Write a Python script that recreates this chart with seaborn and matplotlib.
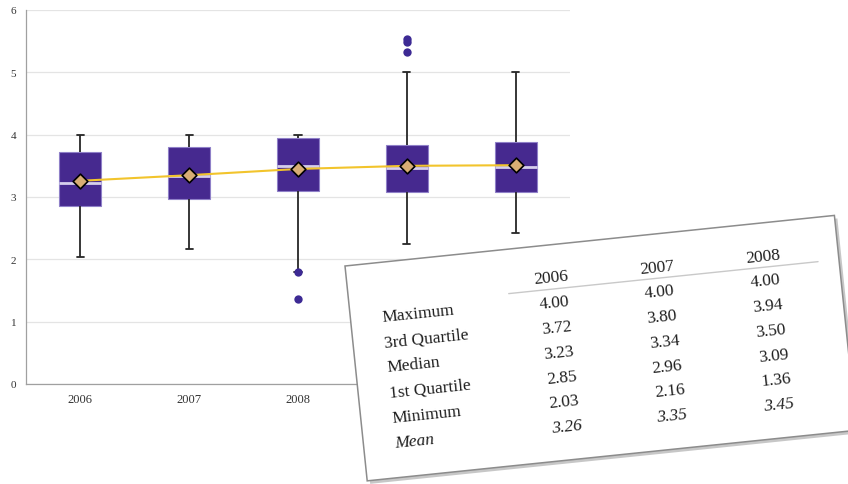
import numpy as np
import pandas as pd
import matplotlib
matplotlib.use("Agg")
import matplotlib.pyplot as plt
from matplotlib.patches import Polygon
from matplotlib.lines import Line2D
import seaborn as sns

# ---------------- data ----------------
years = ["2006", "2007", "2008", "2009", "2010"]
box_max = [4.00, 4.00, 4.00, 5.01, 5.00]
box_q3 = [3.72, 3.80, 3.94, 3.84, 3.89]
box_median = [3.23, 3.34, 3.50, 3.46, 3.48]
box_q1 = [2.85, 2.96, 3.09, 3.08, 3.08]
box_min = [2.03, 2.16, 1.80, 2.25, 2.42]
means = [3.26, 3.35, 3.45, 3.50, 3.51]
outlier_years = ["2008", "2008", "2009", "2009", "2009"]
outlier_values = [1.79, 1.36, 5.53, 5.48, 5.33]

table_years = ["2006", "2007", "2008"]
table_rows = ["Maximum", "3rd Quartile", "Median", "1st Quartile", "Minimum", "Mean"]
table_2006 = ["4.00", "3.72", "3.23", "2.85", "2.03", "3.26"]
table_2007 = ["4.00", "3.80", "3.34", "2.96", "2.16", "3.35"]
table_2008 = ["4.00", "3.94", "3.50", "3.09", "1.36", "3.45"]

# ---------------- style ----------------
sns.set_style("white")
plt.rcParams["font.family"] = ["Liberation Serif", "DejaVu Serif"]

PURPLE = "#46298f"
BOX_EDGE = "#8f80c8"
MEDIAN_C = "#d6cfec"
WHISK = "#262626"
GOLD = "#f2c42c"
TAN = "#d8ad74"
DOT = "#3d2a94"
GRID = "#e4e4e4"
SPINE = "#a0a0a0"

W, H = 848, 485
fig = plt.figure(figsize=(W / 100, H / 100), dpi=100)
ax = fig.add_axes([26 / W, 1 - 385 / H, 544 / W, 374 / H])

records = []
for y, lo, q1, md, q3, hi in zip(years, box_min, box_q1, box_median, box_q3, box_max):
    for v in (lo, q1, md, q3, hi):
        records.append({"year": y, "value": v})
df = pd.DataFrame(records)

sns.boxplot(
    data=df, x="year", y="value", order=years, whis=(0, 100), width=0.385,
    color=PURPLE, saturation=1, ax=ax,
    boxprops=dict(facecolor=PURPLE, edgecolor=BOX_EDGE, linewidth=0.8),
    medianprops=dict(color=MEDIAN_C, linewidth=2.0),
    whiskerprops=dict(color=WHISK, linewidth=1.3),
    capprops=dict(color=WHISK, linewidth=1.3),
    capwidths=0.065,
)

sns.pointplot(x=years, y=means, order=years, color=GOLD, markers="",
              linestyles="-", linewidth=1.5, errorbar=None, ax=ax, zorder=5)

sns.stripplot(x=years, y=means, order=years, jitter=False, marker="D", size=7.5,
              color=TAN, edgecolor="black", linewidth=1.2, ax=ax, zorder=6)

sns.stripplot(x=outlier_years, y=outlier_values, order=years, jitter=False,
              color=DOT, size=6, linewidth=0, ax=ax, zorder=6)

ax.set_xlim(-0.5, 4.5)
ax.set_ylim(0, 6)
ax.set_yticks(range(7))
ax.yaxis.grid(True, color=GRID, linewidth=0.9)
ax.xaxis.grid(False)
ax.set_axisbelow(True)
ax.set_xlabel("")
ax.set_ylabel("")
for s in ["top", "right"]:
    ax.spines[s].set_visible(False)
for s in ["left", "bottom"]:
    ax.spines[s].set_color(SPINE)
    ax.spines[s].set_linewidth(0.9)
ax.tick_params(axis="y", length=3, color=SPINE, labelsize=8, pad=4, labelcolor="#333333")
ax.tick_params(axis="x", which="major", length=0, labelsize=9, pad=6.5, labelcolor="#333333")
ax.set_xticks(np.arange(-0.5, 5, 1), minor=True)
ax.tick_params(axis="x", which="minor", length=4, color=SPINE, direction="out")

# ---------------- rotated table overlay ----------------
theta = np.deg2rad(5.9)
c, s = np.cos(theta), np.sin(theta)
X0, Y0 = 345.0, 267.0
TW, TH = 492.0, 216.0


def local(u, v):
    x = X0 + u * c + v * s
    y = Y0 - u * s + v * c
    return (x / W, 1 - y / H)


def corners(du=0.0, dv=0.0, ox=0.0, oy=0.0):
    pts = [local(0 + du, 0 + dv), local(TW + du, 0 + dv), local(TW + du, TH + dv), local(0 + du, TH + dv)]
    return [(px + ox / W, py - oy / H) for px, py in pts]


shadow = Polygon(corners(ox=3, oy=3), closed=True, transform=fig.transFigure,
                 facecolor="#9a9a9a", edgecolor="none", alpha=0.55, zorder=9)
fig.add_artist(shadow)
card = Polygon(corners(), closed=True, transform=fig.transFigure,
               facecolor="white", edgecolor="#8c8c8c", linewidth=1.1, zorder=10)
fig.add_artist(card)

rot = np.rad2deg(theta)
FS = 12.5
TXT = "#1e1e1e"

# header underline
(ax1, ay1), (ax2, ay2) = local(160, 44.3), local(471, 44.3)
fig.add_artist(Line2D([ax1, ax2], [ay1, ay2], transform=fig.transFigure,
                      color="#c9c9c9", linewidth=1.0, zorder=11))

col_u = [204.0, 310.0, 417.0]
for yr, u in zip(table_years, col_u):
    px, py = local(u, 32.8)
    fig.text(px, py, yr, rotation=rot, rotation_mode="anchor", ha="center", va="center",
             fontsize=FS, color=TXT, zorder=12)

for i, lab in enumerate(table_rows):
    px, py = local(31.5, 54.5 + 25.4 * i)
    fig.text(px, py, lab, rotation=rot, rotation_mode="anchor", ha="left", va="center",
             fontsize=FS, color=TXT, zorder=12,
             style="italic" if lab == "Mean" else "normal")

for col, u in zip([table_2006, table_2007, table_2008], col_u):
    for i, val in enumerate(col):
        px, py = local(u, 58.0 + 24.9 * i)
        fig.text(px, py, val, rotation=rot, rotation_mode="anchor", ha="center", va="center",
                 fontsize=FS, color=TXT, zorder=12,
                 style="italic" if i == len(col) - 1 else "normal")

fig.savefig("out.png", dpi=100)
